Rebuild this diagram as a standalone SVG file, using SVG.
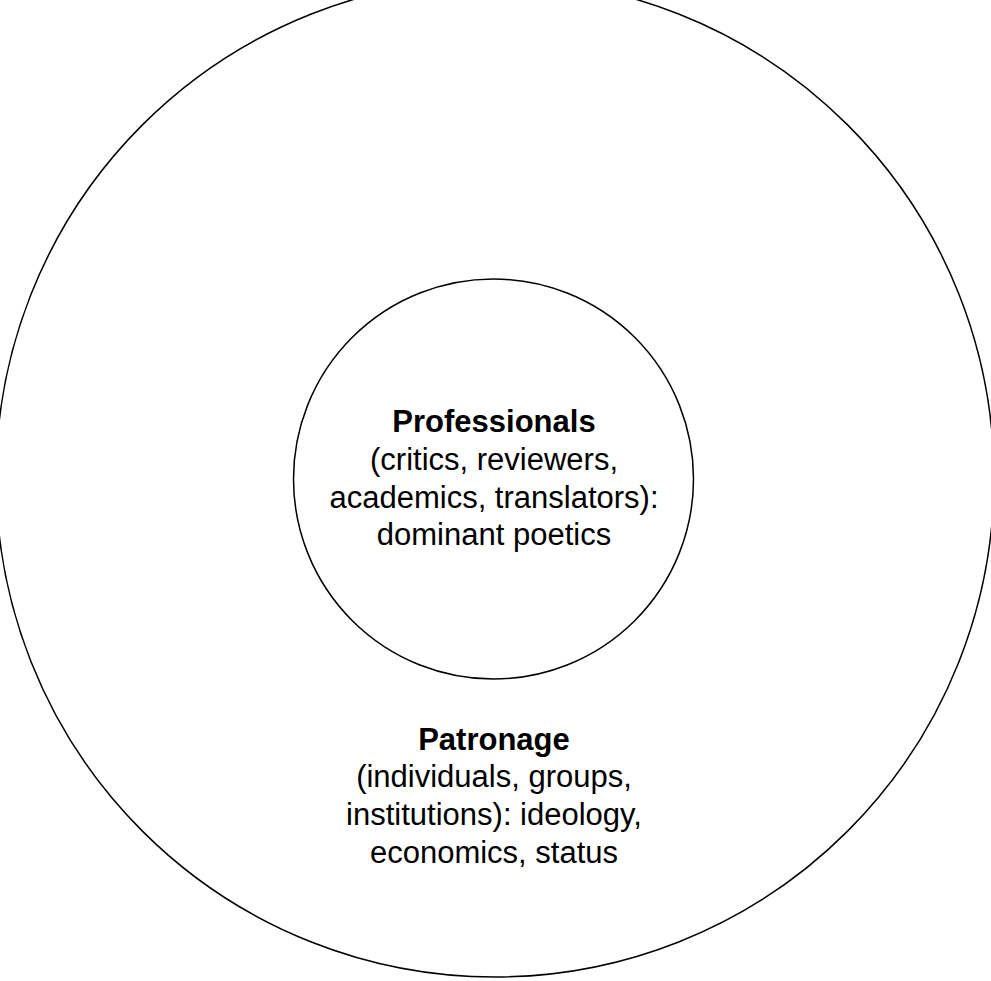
<svg xmlns="http://www.w3.org/2000/svg" width="991" height="981" viewBox="0 0 991 981">
<style>
.c{fill:#fff;stroke:#000;stroke-width:1.5}
text{font-family:"Liberation Sans",Arial,sans-serif;font-size:31px;text-anchor:middle;fill:#000}
.b{font-weight:bold}
</style>
<rect width="991" height="981" fill="#fff"/>
<g id="patronage">
<circle class="c" cx="495" cy="478" r="499"/>
<text x="494" y="750" class="b">Patronage</text>
<text x="494" y="787">(individuals, groups,</text>
<text x="494" y="825">institutions): ideology,</text>
<text x="494" y="863">economics, status</text>
</g>
<g id="professionals">
<circle class="c" cx="493.5" cy="479" r="200"/>
<text x="494" y="432" class="b">Professionals</text>
<text x="494" y="470">(critics, reviewers,</text>
<text x="494" y="508">academics, translators):</text>
<text x="494" y="545">dominant poetics</text>
</g>
<g id="connectors"></g>
</svg>
